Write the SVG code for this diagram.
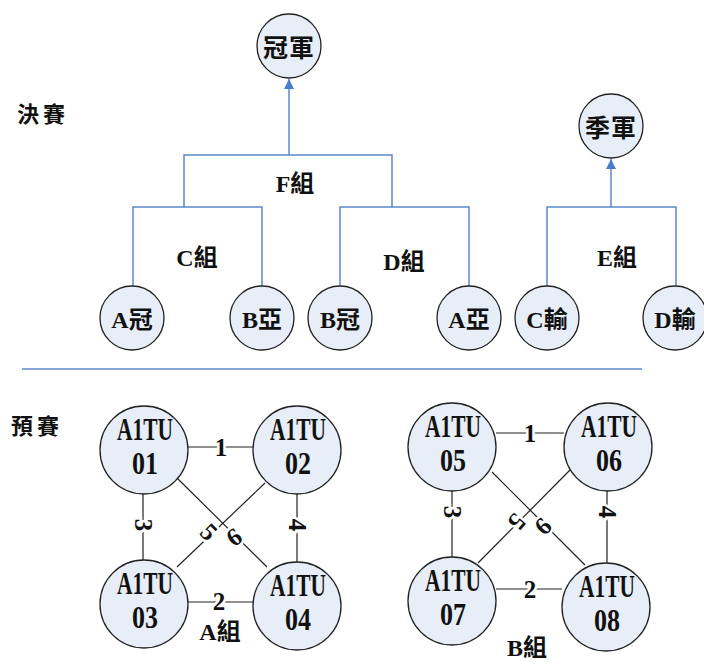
<svg xmlns="http://www.w3.org/2000/svg" width="704" height="666" viewBox="0 0 704 666">
<defs>
<style>
.nd{fill:#e8eef8;stroke:#222;stroke-width:1.3}
.t{font-family:"Liberation Serif","Noto Sans CJK TC",serif;font-weight:bold;fill:#111;text-anchor:middle}
.tl{font-size:32px}
.tc{font-size:24px}
.blue{fill:none;stroke:#5b88cc;stroke-width:1.5}
.blk{fill:none;stroke:#222;stroke-width:1.2}
.lb{font-family:"Liberation Serif",serif;font-weight:bold;font-size:25px;fill:#111;text-anchor:middle;dominant-baseline:central;stroke:#fff;stroke-width:5;paint-order:stroke}
</style>
<marker id="ar" markerWidth="10" markerHeight="10" refX="10" refY="5" orient="auto" markerUnits="userSpaceOnUse" viewBox="0 0 10 10">
<path d="M0,0 L10,5 L0,10 Z" fill="#4a7ccc"/>
</marker>
</defs>
<rect width="704" height="666" fill="#fff"/>

<text class="t" x="43" y="122" font-size="22" letter-spacing="4">決賽</text>
<text class="t" x="37" y="434" font-size="22" letter-spacing="4">預賽</text>
<line x1="22" y1="369" x2="642" y2="369" stroke="#5b88cc" stroke-width="1.3"/>

<g id="connectors">
<path class="blue" d="M133,286 V207 H262 V286"/>
<path class="blue" d="M340,286 V207 H469 V286"/>
<path class="blue" d="M547,286 V207 H676 V286"/>
<path class="blue" d="M184,207 V155 H392 V207"/>
<path class="blue" d="M289,155 V79" marker-end="url(#ar)"/>
<path class="blue" d="M611,207 V159" marker-end="url(#ar)"/>

<line class="blk" x1="188" y1="447" x2="253" y2="447"/>
<line class="blk" x1="188" y1="602" x2="253" y2="602"/>
<line class="blk" x1="143" y1="494" x2="143" y2="560"/>
<line class="blk" x1="297" y1="494" x2="297" y2="562"/>
<line class="blk" x1="265" y1="483" x2="177" y2="567"/>
<line class="blk" x1="177" y1="478" x2="267" y2="567"/>
<text class="lb" x="221" y="447">1</text>
<text class="lb" x="219" y="601">2</text>
<text class="lb" transform="translate(143,525) rotate(90)">3</text>
<text class="lb" transform="translate(297,525) rotate(90)">4</text>
<text class="lb" transform="translate(209,532) rotate(45)">5</text>
<text class="lb" transform="translate(234,537) rotate(-35)">6</text>

<line class="blk" x1="496" y1="433" x2="564" y2="433"/>
<line class="blk" x1="496" y1="589" x2="562" y2="589"/>
<line class="blk" x1="452" y1="491" x2="452" y2="557"/>
<line class="blk" x1="607" y1="491" x2="607" y2="563"/>
<line class="blk" x1="570" y1="470" x2="478" y2="563"/>
<line class="blk" x1="492" y1="472" x2="585" y2="565"/>
<text class="lb" x="530" y="433">1</text>
<text class="lb" x="530" y="589">2</text>
<text class="lb" transform="translate(452,512) rotate(90)">3</text>
<text class="lb" transform="translate(607,512) rotate(90)">4</text>
<text class="lb" transform="translate(517,522) rotate(130)">5</text>
<text class="lb" transform="translate(543,526) rotate(-45)">6</text>
</g>

<text class="t tc" x="295" y="192">F組</text>
<text class="t tc" x="197" y="266">C組</text>
<text class="t tc" x="404" y="270">D組</text>
<text class="t tc" x="617" y="266">E組</text>
<text class="t tc" x="220" y="640">A組</text>
<text class="t tc" x="527" y="656">B組</text>

<g id="champion"><circle class="nd" cx="289" cy="46" r="32"/><text class="t" x="289" y="57" font-size="25" letter-spacing="1">冠軍</text></g>
<g id="third"><circle class="nd" cx="611" cy="126" r="32"/><text class="t" x="611" y="137" font-size="25" letter-spacing="1">季軍</text></g>
<g id="a-champ"><circle class="nd" cx="132" cy="318" r="32"/><text class="t tc" x="132" y="328">A冠</text></g>
<g id="b-second"><circle class="nd" cx="262" cy="318" r="32"/><text class="t tc" x="262" y="328">B亞</text></g>
<g id="b-champ"><circle class="nd" cx="340" cy="318" r="32"/><text class="t tc" x="340" y="328">B冠</text></g>
<g id="a-second"><circle class="nd" cx="469" cy="318" r="32"/><text class="t tc" x="469" y="328">A亞</text></g>
<g id="c-lose"><circle class="nd" cx="547" cy="318" r="32"/><text class="t tc" x="547" y="328">C輸</text></g>
<g id="d-lose"><circle class="nd" cx="675" cy="318" r="32"/><text class="t tc" x="675" y="328">D輸</text></g>

<g id="a1tu01"><circle class="nd" cx="144" cy="450" r="44"/><text class="t tl" x="145" y="440" textLength="56" lengthAdjust="spacingAndGlyphs">A1TU</text><text class="t tl" x="145" y="474" textLength="26" lengthAdjust="spacingAndGlyphs">01</text></g>
<g id="a1tu02"><circle class="nd" cx="297" cy="450" r="44"/><text class="t tl" x="298" y="440" textLength="56" lengthAdjust="spacingAndGlyphs">A1TU</text><text class="t tl" x="298" y="474" textLength="26" lengthAdjust="spacingAndGlyphs">02</text></g>
<g id="a1tu03"><circle class="nd" cx="144" cy="604" r="44"/><text class="t tl" x="145" y="594" textLength="56" lengthAdjust="spacingAndGlyphs">A1TU</text><text class="t tl" x="145" y="628" textLength="26" lengthAdjust="spacingAndGlyphs">03</text></g>
<g id="a1tu04"><circle class="nd" cx="297" cy="606" r="44"/><text class="t tl" x="298" y="596" textLength="56" lengthAdjust="spacingAndGlyphs">A1TU</text><text class="t tl" x="298" y="630" textLength="26" lengthAdjust="spacingAndGlyphs">04</text></g>
<g id="a1tu05"><circle class="nd" cx="452" cy="447" r="44"/><text class="t tl" x="453" y="437" textLength="56" lengthAdjust="spacingAndGlyphs">A1TU</text><text class="t tl" x="453" y="471" textLength="26" lengthAdjust="spacingAndGlyphs">05</text></g>
<g id="a1tu06"><circle class="nd" cx="608" cy="447" r="44"/><text class="t tl" x="609" y="437" textLength="56" lengthAdjust="spacingAndGlyphs">A1TU</text><text class="t tl" x="609" y="471" textLength="26" lengthAdjust="spacingAndGlyphs">06</text></g>
<g id="a1tu07"><circle class="nd" cx="452" cy="601" r="44"/><text class="t tl" x="453" y="591" textLength="56" lengthAdjust="spacingAndGlyphs">A1TU</text><text class="t tl" x="453" y="625" textLength="26" lengthAdjust="spacingAndGlyphs">07</text></g>
<g id="a1tu08"><circle class="nd" cx="606" cy="607" r="44"/><text class="t tl" x="607" y="597" textLength="56" lengthAdjust="spacingAndGlyphs">A1TU</text><text class="t tl" x="607" y="631" textLength="26" lengthAdjust="spacingAndGlyphs">08</text></g>
</svg>
